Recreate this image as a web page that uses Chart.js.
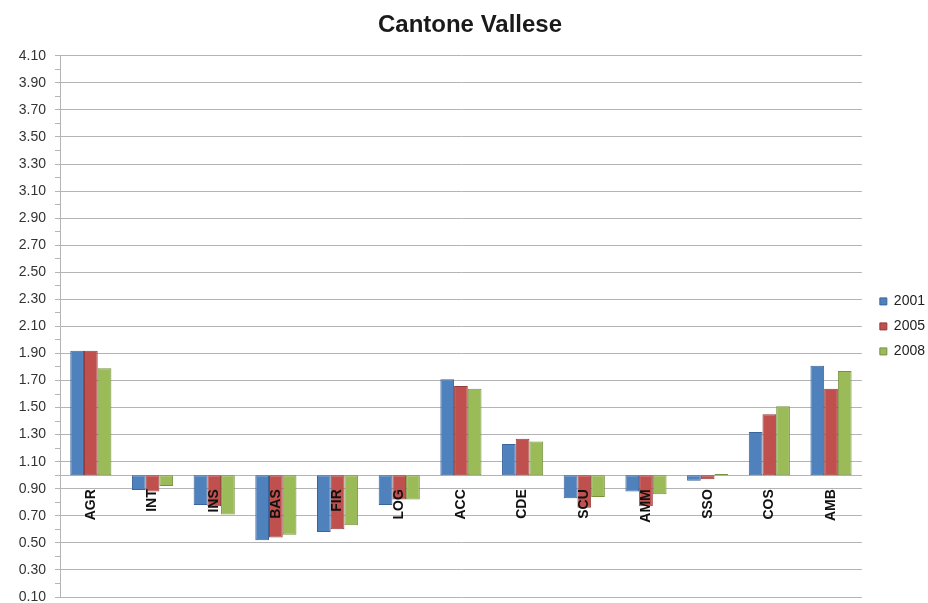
<!DOCTYPE html>
<html>
<head>
<meta charset="utf-8">
<script src="https://cdn.jsdelivr.net/npm/chart.js@4"></script>
<style>
  html, body { margin: 0; padding: 0; background: #ffffff; }
  .chart-wrapper { width: 928px; height: 603px; }
</style>
</head>
<body>
<div class="chart-wrapper"><canvas id="chart"></canvas></div>
<script>
// Indicator codes along the category axis
const categories = ["AGR", "INT", "INS", "BAS", "FIR", "LOG", "ACC", "CDE", "SCU", "AMM", "SSO", "COS", "AMB"];

// Index values per survey year
const values2001 = [1.92, 0.89, 0.78, 0.52, 0.58, 0.78, 1.71, 1.23, 0.83, 0.88, 0.96, 1.32, 1.81];
const values2005 = [1.92, 0.88, 0.77, 0.54, 0.60, 0.82, 1.66, 1.27, 0.76, 0.77, 0.97, 1.45, 1.64];
const values2008 = [1.79, 0.92, 0.71, 0.56, 0.63, 0.82, 1.64, 1.25, 0.84, 0.86, 1.01, 1.51, 1.77];

// Bars grow up or down from the reference level
const baseline = 1.0;
const yMin = 0.1;
const yMax = 4.1;

const toFloating = (arr) => arr.map(v => [baseline, v]);

const fontFamily = "'Liberation Sans', Arial, sans-serif";
const gridGray = "#b4b4b4";

// small shifts for the title and legend boxes after layout
const layoutNudge = {
  id: "layoutNudge",
  afterLayout(chart) {
    if (chart.legend) {
      chart.legend.left += 7;
      chart.legend.right += 7;
    }
    if (chart.titleBlock) {
      chart.titleBlock.left += 6;
      chart.titleBlock.right += 6;
    }
  },
};

const ctx = document.getElementById("chart").getContext("2d");
new Chart(ctx, {
  type: "bar",
  data: {
    labels: categories,
    datasets: [
      {
        label: "2001",
        data: toFloating(values2001),
        backgroundColor: "#4F81BD",
        borderColor: "#3A659A",
        borderWidth: 1,
        borderSkipped: false,
      },
      {
        label: "2005",
        data: toFloating(values2005),
        backgroundColor: "#C0504D",
        borderColor: "#943C3A",
        borderWidth: 1,
        borderSkipped: false,
      },
      {
        label: "2008",
        data: toFloating(values2008),
        backgroundColor: "#9BBB59",
        borderColor: "#76923F",
        borderWidth: 1,
        borderSkipped: false,
      },
    ],
  },
  plugins: [layoutNudge],
  options: {
    responsive: true,
    maintainAspectRatio: false,
    animation: false,
    layout: {
      padding: { left: 0, right: 0, top: 0, bottom: 6 },
    },
    datasets: {
      bar: {
        categoryPercentage: 0.667,
        barPercentage: 1.0,
      },
    },
    plugins: {
      tooltip: { enabled: false },
      title: {
        display: true,
        text: "Cantone Vallese",
        color: "#1a1a1a",
        font: { family: fontFamily, size: 24, weight: "bold", lineHeight: 1.2 },
        padding: { top: 11, bottom: 16 },
      },
      legend: {
        display: true,
        position: "right",
        fullSize: false,
        labels: {
          color: "#222222",
          boxWidth: 7,
          boxHeight: 7,
          padding: 11,
          font: { family: fontFamily, size: 14 },
        },
      },
    },
    scales: {
      x: {
        // category axis sits on the baseline, labels drawn over the bars
        position: { y: baseline },
        afterFit: (scale) => { scale.height = 0; },
        grid: { display: false, drawTicks: false },
        border: { display: true, color: gridGray, width: 1 },
        ticks: {
          z: 1,
          color: "#111111",
          maxRotation: 90,
          minRotation: 90,
          padding: 14,
          autoSkip: false,
          font: { family: fontFamily, size: 14, weight: "bold" },
        },
      },
      y: {
        min: yMin,
        max: yMax,
        afterFit: (scale) => {
          scale.width = 60;
          scale.paddingBottom = 0;
        },
        grid: {
          color: (c) => (c.index % 2 === 0 ? gridGray : "rgba(0,0,0,0)"),
          tickColor: gridGray,
          tickLength: 5,
        },
        border: { display: true, color: gridGray, width: 1 },
        ticks: {
          stepSize: 0.1,
          autoSkip: false,
          padding: 9,
          color: "#333333",
          font: { family: fontFamily, size: 14, lineHeight: 1 },
          callback: (value, index) => (index % 2 === 0 ? Number(value).toFixed(2) : ""),
        },
      },
    },
  },
});
</script>
</body>
</html>
